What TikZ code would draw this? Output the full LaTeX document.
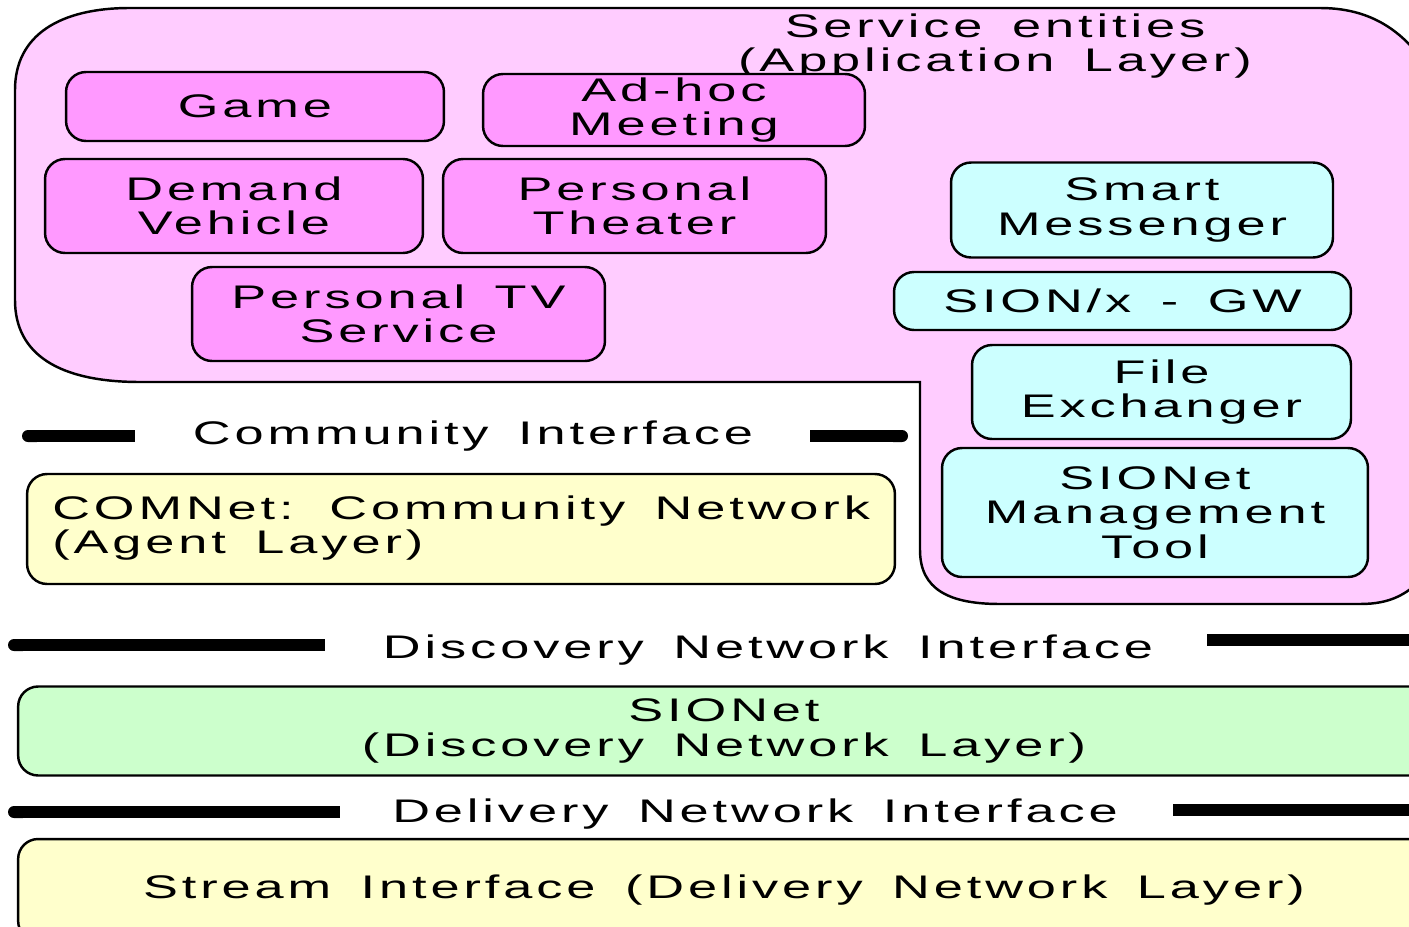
\documentclass[tikz,border=0pt]{standalone}
\usepackage{fontspec}
\setmainfont{Liberation Sans}[FakeStretch=1.6, LetterSpace=12, WordSpace=1.6]
\usepackage{tikz}
\usetikzlibrary{arrows.meta}

\definecolor{areapink}{RGB}{255,204,255}
\definecolor{apppink}{RGB}{255,153,255}
\definecolor{toolcyan}{RGB}{204,255,255}
\definecolor{layeryellow}{RGB}{255,255,204}
\definecolor{layergreen}{RGB}{204,255,204}

\begin{document}
\begin{tikzpicture}[x=0.02cm, y=-0.02cm,
        every node/.append style={font=\fontsize{18.6}{19.5}\selectfont, align=center, inner sep=0pt},
        box/.style={draw=black, line width=1.4pt, rounded corners=0.4cm},
        bar/.style={line width=0.24cm}]
      \tikzstyle{app} = [box, fill=apppink]
      \tikzstyle{tool} = [box, fill=toolcyan]
      \useasboundingbox (0,0) rectangle (1409,926);
      % application area
      \draw[line width=1.4pt, fill=areapink] (920,382) -- (140,382)
        .. controls (60,382) and (15,355) .. (15,300) -- (15,90)
        .. controls (15,35) and (60,8) .. (130,8) -- (1320,8)
        .. controls (1380,8) and (1409,40) .. (1430,70) -- (1430,570)
        .. controls (1409,595) and (1390,604) .. (1360,604) -- (1000,604)
        .. controls (950,604) and (920,590) .. (920,550) -- cycle;
      \node (title) at (995,46) {Service entities\\(Application Layer)};
      \node (game) [app, minimum width=7.56cm, minimum height=1.38cm] at (255,106.5) {Game};
      \node (adhoc) [app, minimum width=7.64cm, minimum height=1.44cm] at (674,110) {Ad-hoc\\Meeting};
      \node (demand) [app, minimum width=7.56cm, minimum height=1.88cm] at (234,206) {Demand\\Vehicle};
      \node (theater) [app, minimum width=7.66cm, minimum height=1.88cm] at (634.5,206) {Personal\\Theater};
      \node (tv) [app, minimum width=8.26cm, minimum height=1.88cm] at (398.5,314) {Personal TV\\Service};
      \node (messenger) [tool, minimum width=7.64cm, minimum height=1.9cm] at (1142,210) {Smart\\Messenger};
      \node (gw) [tool, minimum width=9.14cm, minimum height=1.16cm] at (1122.5,301) {SION/x - GW};
      \node (exchanger) [tool, minimum width=7.58cm, minimum height=1.88cm] at (1161.5,392) {File\\Exchanger};
      \node (mgmt) [tool, minimum width=8.52cm, minimum height=2.58cm] at (1155,512.5) {SIONet\\Management\\Tool};
      % interfaces
      \node (community) at (473,436) {Community Interface};
      \draw[bar, {Round Cap[]}-] (22,436) -- (135,436);
      \draw[bar, -{Round Cap[]}] (810,436) -- (908,436);
      \node (discovery) at (768,650) {Discovery Network Interface};
      \draw[bar, {Round Cap[]}-] (8,645) -- (325,645);
      \draw[bar] (1207,640) -- (1409,640);
      \node (delivery) at (755,814) {Delivery Network Interface};
      \draw[bar, {Round Cap[]}-] (8,812) -- (340,812);
      \draw[bar] (1173,810) -- (1409,810);
      % layers
      \node (comnet) [box, fill=layeryellow, minimum width=17.36cm, minimum height=2.2cm] at (461,529) {};
      \node (comnettext) [anchor=west, align=left] at (52,528) {COMNet: Community Network\\(Agent Layer)};
      \node (sionet) [box, fill=layergreen, minimum width=28.24cm, minimum height=1.78cm] at (724,731) {SIONet\\(Discovery Network Layer)};
      \node (stream) [box, fill=layeryellow, minimum width=28.24cm, minimum height=2.04cm] at (724,890) {Stream Interface (Delivery Network Layer)};
    \end{tikzpicture}
\end{document}
